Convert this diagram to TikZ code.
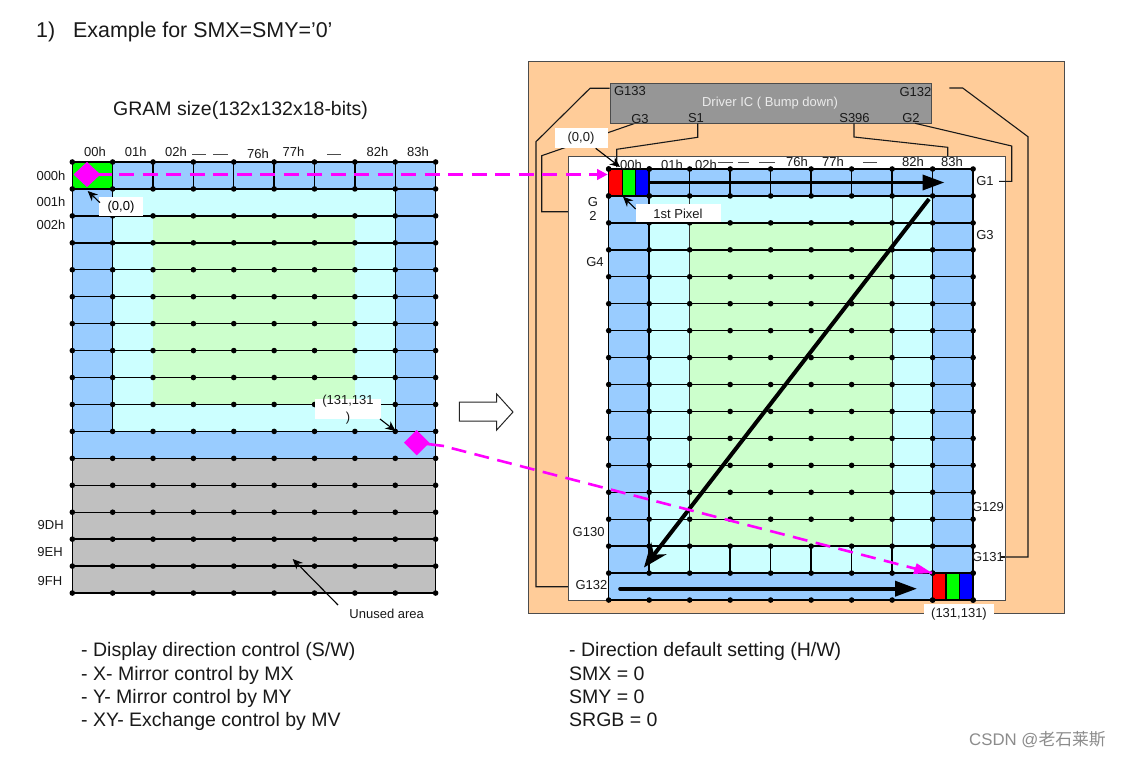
\documentclass[tikz,border=0pt]{standalone}
\usepackage{fontspec}
\setmainfont{Liberation Sans}
\newfontfamily\cjkfont{Noto Sans CJK SC}
\usetikzlibrary{arrows.meta}
\definecolor{blueband}{HTML}{99CCFF}
\definecolor{cyanband}{HTML}{CCFFFF}
\definecolor{greenband}{HTML}{CCFFCC}
\definecolor{grayband}{HTML}{C0C0C0}
\definecolor{peach}{HTML}{FFCC99}
\definecolor{chipgray}{HTML}{969696}
\definecolor{mag}{HTML}{FF00FF}
\definecolor{pure}{HTML}{00FF00}
\newcommand{\LX}[1]{72.3+40.37*#1}
\newcommand{\LY}[1]{162+26.94*#1}
\newcommand{\RX}[1]{608.7+40.49*#1}
\newcommand{\RY}[1]{169+26.94*#1}
\tikzset{
  x=1pt,y=-1pt,
  grid/.style={line width=1.4pt,black},
  thinv/.style={line width=1pt,black!80},
  wire/.style={line width=1.1pt,black!90},
  dotmark/.style={fill=black,draw=none},
  lab/.style={inner sep=0pt,font=\fontsize{13}{13}\selectfont,text=black!90},
  big/.style={inner sep=0pt,font=\fontsize{19.5}{19.5}\selectfont,anchor=base west,text=black!90},
  head/.style={inner sep=0pt,font=\fontsize{21.4}{21.4}\selectfont,anchor=base west,text=black!90},
  whitebox/.style={fill=white,draw=none,inner sep=0pt},
  pointer/.style={line width=1.1pt,-{Stealth[length=10pt,width=9pt]}},
  fatarrow/.style={line width=3.6pt,-{Triangle[length=22pt,width=15pt]}},
  fatdiag/.style={line width=4pt,-{Stealth[length=24pt,width=19pt]}},
  dashline/.style={mag,line width=2.6pt,dash pattern=on 15pt off 8.5pt},
  stub/.style={mag,line width=2.6pt},
  diamondmark/.style={fill=mag,draw=none},
  tiny/.style={line width=1pt,black!70}
}
\begin{document}
\begin{tikzpicture}
\useasboundingbox (0,0) rectangle (1121,757);
\fill[white] (0,0) rectangle (1121,757);

% ---------- left GRAM ----------
\fill[blueband] ({\LX{0}},{\LY{0}}) rectangle ({\LX{9}},{\LY{11}});
\fill[cyanband] ({\LX{1}},{\LY{1}}) rectangle ({\LX{8}},{\LY{10}});
\fill[greenband] ({\LX{2}},{\LY{2}}) rectangle ({\LX{7}},{\LY{9}});
\fill[grayband] ({\LX{0}},{\LY{11}}) rectangle ({\LX{9}},{\LY{16}});
\fill[pure] ({\LX{0}},{\LY{0}}) rectangle ({\LX{1}},{\LY{1}});
\foreach \j in {0,...,16} \draw[grid] ({\LX{0}},{\LY{\j}}) -- ({\LX{9}},{\LY{\j}});
\foreach \i in {0,...,9} \draw[grid] ({\LX{\i}},{\LY{0}}) -- ({\LX{\i}},{\LY{1}});
\draw[grid] ({\LX{1}},{\LY{0}}) -- ({\LX{1}},{\LY{10}});
\draw[grid] ({\LX{8}},{\LY{0}}) -- ({\LX{8}},{\LY{10}});
\draw[grid] ({\LX{0}},{\LY{0}}) -- ({\LX{0}},{\LY{16}});
\draw[grid] ({\LX{9}},{\LY{0}}) -- ({\LX{9}},{\LY{16}});
\foreach \i in {0,...,9} \foreach \j in {0,...,16} \fill[dotmark] ({\LX{\i}},{\LY{\j}}) circle (2.8);

% ---------- right panel ----------
\draw[line width=1pt,black!70,fill=peach] (528,62) rectangle (1064.5,613);

\coordinate (g133a) at (609.7,88.3);
\coordinate (g133b) at (590,88.3);
\coordinate (g133c) at (536,141.7);
\coordinate (g133d) at (536,586.7);
\coordinate (g133e) at (568.3,586.7);
\draw[wire] (g133a) -- (g133b) -- (g133c) -- (g133d) -- (g133e);

\coordinate (g3a) at (635,123.3);
\coordinate (g3b) at (541.7,155.7);
\coordinate (g3c) at (541.7,211.7);
\coordinate (g3d) at (568.3,211.7);
\draw[wire] (g3a) -- (g3b) -- (g3c) -- (g3d);

\coordinate (g132a) at (949.3,88);
\coordinate (g132b) at (962.7,88);
\coordinate (g132c) at (1028,136.7);
\coordinate (g132d) at (1028,557);
\coordinate (g132e) at (1005,557);
\draw[wire] (g132a) -- (g132b) -- (g132c) -- (g132d) -- (g132e);

\draw[line width=1pt,black!70,fill=white] (568.3,156) rectangle (1005,600);

\fill[blueband] ({\RX{0}},{\RY{0}}) rectangle ({\RX{9}},{\RY{16}});
\fill[cyanband] ({\RX{1}},{\RY{1}}) rectangle ({\RX{8}},{\RY{15}});
\fill[greenband] ({\RX{2}},{\RY{2}}) rectangle ({\RX{7}},{\RY{14}});
\foreach \j in {0,...,16} \draw[grid] ({\RX{0}},{\RY{\j}}) -- ({\RX{9}},{\RY{\j}});
\foreach \i in {0,...,9} \draw[grid] ({\RX{\i}},{\RY{0}}) -- ({\RX{\i}},{\RY{1}});
\foreach \i in {0,...,9} \draw[grid] ({\RX{\i}},{\RY{14}}) -- ({\RX{\i}},{\RY{15}});
\draw[grid] ({\RX{1}},{\RY{0}}) -- ({\RX{1}},{\RY{15}});
\draw[grid] ({\RX{8}},{\RY{0}}) -- ({\RX{8}},{\RY{15}});
\draw[thinv] ({\RX{2}},{\RY{1}}) -- ({\RX{2}},{\RY{14}});
\draw[thinv] ({\RX{7}},{\RY{1}}) -- ({\RX{7}},{\RY{14}});
\draw[grid] ({\RX{0}},{\RY{0}}) -- ({\RX{0}},{\RY{16}});
\draw[grid] ({\RX{9}},{\RY{0}}) -- ({\RX{9}},{\RY{16}});
\foreach \i in {0,...,9} \foreach \j in {0,...,16} \fill[dotmark] ({\RX{\i}},{\RY{\j}}) circle (2.8);

% RGB pixels
\foreach \n/\c in {0/red,1/pure,2/blue} {
  \fill[\c] ({\RX{0}+13.5*\n},{\RY{0}}) rectangle ({\RX{0}+13.5*(\n+1)},{\RY{1}});
  \fill[\c] ({\RX{8}+13.5*\n},{\RY{15}}) rectangle ({\RX{8}+13.5*(\n+1)},{\RY{16}});
}
\draw[grid] ({\RX{0}},{\RY{0}}) rectangle ({\RX{1}},{\RY{1}});
\draw[grid] ({\RX{8}},{\RY{15}}) rectangle ({\RX{9}},{\RY{16}});
\foreach \n in {1,2} {
  \draw[grid] ({\RX{0}+13.5*\n},{\RY{0}}) -- ({\RX{0}+13.5*\n},{\RY{1}});
  \draw[grid] ({\RX{8}+13.5*\n},{\RY{15}}) -- ({\RX{8}+13.5*\n},{\RY{16}});
}
\foreach \i/\j in {0/0,1/0,0/1,1/1,8/15,9/15,8/16,9/16}
  \fill[dotmark] ({\RX{\i}},{\RY{\j}}) circle (2.8);

% driver IC
\node[draw=black!70,line width=1.2pt,fill=chipgray,minimum width=321.3pt,minimum height=40.6pt,inner sep=0pt,anchor=north west] (chip) at (609.7,82.7) {};
\coordinate (s1a) at (697.7,123.3);
\coordinate (s1b) at (697.7,137.3);
\coordinate (s1c) at (616.7,149.3);
\coordinate (s1d) at (616.7,167);
\draw[wire] (s1a) -- (s1b) -- (s1c) -- (s1d);
\coordinate (s396a) at (854,123.3);
\coordinate (s396b) at (854,137);
\coordinate (s396c) at (947.7,147.3);
\coordinate (s396d) at (947.7,156);
\draw[wire] (s396a) -- (s396b) -- (s396c) -- (s396d);
\coordinate (g2a) at (915,123.3);
\coordinate (g2b) at (1011.7,146);
\coordinate (g2c) at (1011.7,181.3);
\coordinate (g2d) at (999,181.3);
\draw[wire] (g2a) -- (g2b) -- (g2c) -- (g2d);
\coordinate (g131wire) at (1001,557);
\draw[wire] (g132e) -- (g131wire);

% scan arrows
\coordinate (toA) at (649,182.5);
\coordinate (toB) at (944.5,182.5);
\draw[fatarrow] (toA) -- (toB);
\coordinate (diagA) at (929,199);
\coordinate (diagB) at (644,567.5);
\draw[fatdiag] (diagA) -- (diagB);
\coordinate (botA) at (620,588.7);
\coordinate (botB) at (917,588.7);
\draw[fatarrow,line cap=round] (botA) -- (botB);

% magenta links
\fill[diamondmark] (73.5,174.5) -- (87,162) -- (100.5,174.5) -- (87,187) -- cycle;
\coordinate (dmA) at (87,174.5);
\coordinate (stubA) at (112,174.5);
\coordinate (dashA) at (119,174.5);
\fill[diamondmark] (404,442.7) -- (416.7,430) -- (429.4,442.7) -- (416.7,455.4) -- cycle;
\coordinate (dmB) at (416.7,442.7);
\coordinate (stubB) at (444,446);
\coordinate (dashB) at (451.7,448.2);
\coordinate (pixA) at (607.5,174.5);
\coordinate (pixB) at (932,573);
\draw[stub] (dmA) -- (stubA);
\draw[dashline] (dashA) -- (pixA);
\fill[mag] (pixA) -- ++(-10.5,-5.7) -- ++(0,11.4) -- cycle;
\draw[stub] (dmB) -- (stubB);
\draw[dashline] (dashB) -- (pixB);
\fill[mag] (pixB) -- (916.7,563.3) -- (913,574) -- cycle;

% hollow arrow
\draw[line width=1pt,black!85,fill=white] (459.3,402) -- (496.7,402) -- (496.7,394) -- (513,412) -- (496.7,430) -- (496.7,421) -- (459.3,421) -- cycle;

% white call-outs
\node[whitebox,minimum width=43.7pt,minimum height=18.7pt] (lz) at (120.8,206.7) {};
\node[lab,text=black] (lzt) at (121,207) {(0,0)};
\coordinate (lzp) at (87.7,191);
\draw[pointer] (100,202.7) -- (lzp);

\node[whitebox,minimum width=66pt,minimum height=20pt] (lm) at (348,409) {};
\node[lab] (lmt1) at (348,401) {(131,131};
\node[lab] (lmt2) at (348,418) {)};
\coordinate (lmp) at (395.5,431);
\draw[pointer] (380,419) -- (lmp);

\node[whitebox,minimum width=52.7pt,minimum height=19.4pt] (rz) at (581.3,138) {};
\node[lab] (rzt) at (581,138) {(0,0)};
\coordinate (rzp) at (620,167);
\draw[pointer] (595.7,148.3) -- (rzp);

\node[whitebox,minimum width=85pt,minimum height=18pt] (rp) at (678.5,213.3) {};
\node[lab] (rpt) at (678,213.7) {1st Pixel};
\coordinate (rpp) at (623,196.7);
\draw[pointer] (635.7,209) -- (rpp);

\node[whitebox,minimum width=70pt,minimum height=20pt] (rb) at (959,614) {};
\node[lab] (rbt) at (959,613.7) {(131,131)};

% chip text
\node[lab] (c1) at (630,91) {G133};
\node[lab] (c2) at (640,118.7) {G3};
\node[lab] (c3) at (696,118.5) {S1};
\node[lab] (c4) at (854.5,118.5) {S396};
\node[lab] (c5) at (911,118.5) {G2};
\node[lab] (c6) at (915.5,91.7) {G132};
\node[lab,text=black!8] (c7) at (770,102.7) {Driver IC ( Bump down)};

% left headers
\foreach \t/\x/\y [count=\k] in {00h/95/152,01h/135.7/152,02h/176/152,76h/258/153.5,77h/293.5/152,82h/377.5/152,83h/418/152,000h/51/176,001h/51/201.5,002h/51/224.5,9DH/50.7/525,9EH/50/552,9FH/50/581}
  \node[lab] (lh\k) at (\x,\y) {\t};
\foreach \a/\b [count=\k] in {192/206,213/228,327/341} {
  \coordinate (lda\k) at (\a,154.7);
  \coordinate (ldb\k) at (\b,154.7);
  \draw[tiny] (lda\k) -- (ldb\k);
}
% right headers
\foreach \t/\x/\y [count=\k] in {00h/631/165,01h/672/165,02h/706/165,76h/797/162,77h/833/162,82h/913/162,83h/952/162,G4/595/262,G130/588.6/532.5,G132/591.5/584.7,G1/985/181,G3/985/235,G129/988/507.5,G131/988/557,G/593/201.7,2/593/216}
  \node[lab] (rh\k) at (\x,\y) {\t};
\foreach \a/\b [count=\k] in {718/733,738/749,759/775,863/877} {
  \coordinate (rda\k) at (\a,162.5);
  \coordinate (rdb\k) at (\b,162.5);
  \draw[tiny] (rda\k) -- (rdb\k);
}

% unused area
\node[lab] (ua) at (386.7,613.5) {Unused area};
\coordinate (uas) at (338,605);
\coordinate (uap) at (292.7,559);
\draw[pointer] (uas) -- (uap);

% titles
\node[head] (h1a) at (36,38) {1)};
\node[head] (h1b) at (73,38) {Example for SMX=SMY=’0’};
\node[big] (h2) at (113,115.5) {GRAM size(132x132x18-bits)};
\node[big] (bl1) at (81,656) {- Display direction control (S/W)};
\node[big] (bl2) at (81,680) {- X- Mirror control by MX};
\node[big] (bl3) at (81,703) {- Y- Mirror control by MY};
\node[big] (bl4) at (81,726.5) {- XY- Exchange control by MV};
\node[big] (br1) at (569,656) {- Direction default setting (H/W)};
\node[big] (br2) at (569,680) {SMX = 0};
\node[big] (br3) at (569,703) {SMY = 0};
\node[big] (br4) at (569,726.5) {SRGB = 0};
\node[inner sep=0pt,anchor=base west,font=\fontsize{16.8}{16.8}\selectfont,text=black!45] (wm) at (969,745) {CSDN @{\cjkfont 老石莱斯}};
\end{tikzpicture}
\end{document}
